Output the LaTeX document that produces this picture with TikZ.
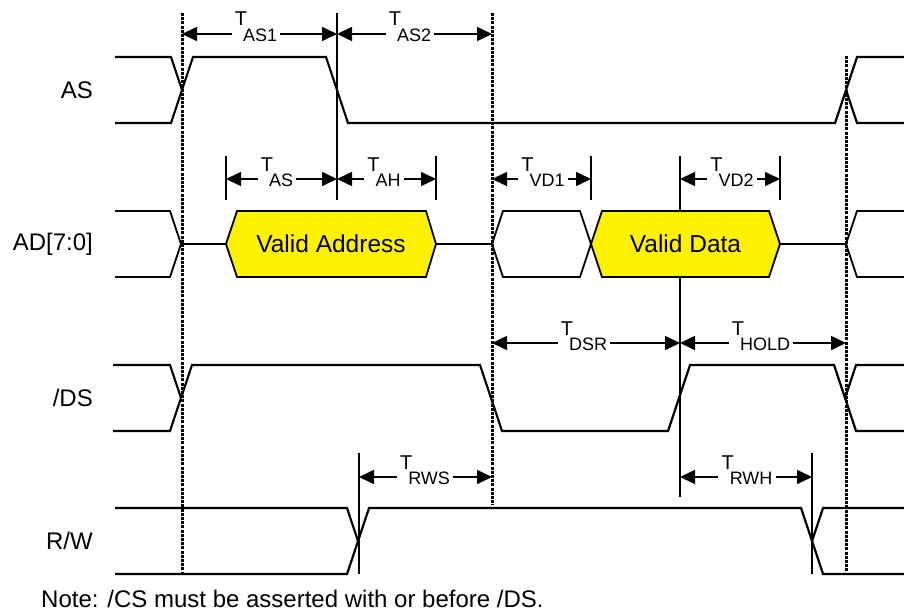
\documentclass[tikz,border=0pt]{standalone}
\usepackage{fontspec}
\setmainfont{Liberation Sans}
\usetikzlibrary{arrows.meta}

\newcommand{\tlbl}[1]{\raisebox{8pt}{\fontsize{20}{20}\selectfont T}\kern-4pt\raisebox{-7.5pt}{\fontsize{18}{18}\selectfont #1}}

\begin{document}
\begin{tikzpicture}
	[
	x=1pt, y=-1pt,
	font=\fontsize{24}{28}\selectfont,
	sig/.style={line width=2.2pt, line join=miter},
	bus/.style={line width=1.8pt, line join=miter},
	valid/.style={bus, fill=yellow},
	dotline/.style={line width=3pt, dash pattern=on 3pt off 1.2pt},
	marker/.style={line width=1.8pt},
	dim/.style={
           -{Triangle[length=15pt,width=14pt]},
           line width=1.6pt,},
	tlab/.style={inner xsep=3pt, inner ysep=0pt, text height=24pt, text depth=24pt},
	signame/.style={anchor=east, inner sep=0pt}
	]
		\useasboundingbox (0,0) rectangle (904,615);

		% time marks
		\coordinate (tA) at (182,0);
		\coordinate (tB) at (337,0);
		\coordinate (tC) at (492,0);
		\coordinate (tD) at (680,0);
		\coordinate (tE) at (846,0);
		\coordinate (tF) at (359,0);
		\coordinate (tG) at (812,0);
		\coordinate (kA) at (226,0);
		\coordinate (kB) at (436,0);
		\coordinate (kC) at (591,0);
		\coordinate (kD) at (780,0);

		% signal names
		\node[signame] (nAS) at (93,90) {AS};
		\node[signame] (nAD) at (93,244) {AD[7:0]};
		\node[signame] (nDS) at (93,398) {/DS};
		\node[signame] (nRW) at (93,541) {R/W};

		% dotted and solid marker lines
		\draw[dotline] (182,13) -- (182,575);
		\draw[dotline] (492,13) -- (492,505);
		\draw[dotline] (846,56) -- (846,574);
		\draw[marker] (337,13) -- (337,200);
		\draw[marker] (680,156) -- (680,497);
		\draw[marker] (359,453) -- (359,574);
		\draw[marker] (812,453) -- (812,574);
		\foreach \x in {226,436,591,780} \draw[marker] (\x,156) -- (\x,200);

		% AS
		\draw[sig] (115,57) -- (171,57) -- (182,90);
		\draw[sig] (115,123) -- (171,123) -- (193,57) -- (326,57) -- (348,123) -- (835,123) -- (857,57) -- (904,57);
		\draw[sig] (846,90) -- (857,123) -- (904,123);

		% AD[7:0]
		\draw[bus] (115,211) -- (170,211) -- (181,244);
		\draw[bus] (115,277) -- (170,277) -- (181,244) -- (226,244);
		\draw[valid] (226,244) -- (237,211) -- (426,211) -- (436,244) -- (426,277) -- (237,277) -- cycle;
		\draw[bus] (436,244) -- (492,244);
		\draw[bus] (492,244) -- (503,211) -- (580,211) -- (591,244) -- (580,277) -- (503,277) -- cycle;
		\draw[valid] (591,244) -- (602,211) -- (769,211) -- (780,244) -- (769,277) -- (602,277) -- cycle;
		\draw[bus] (780,244) -- (846,244) -- (857,211) -- (904,211);
		\draw[bus] (846,244) -- (857,277) -- (904,277);
		\node[font=\fontsize{24.5}{28}\selectfont] (va) at (331,244) {Valid Address};
		\node[font=\fontsize{24.5}{28}\selectfont] (vd) at (685.5,244) {Valid Data};

		% /DS
		\draw[sig] (113,365) -- (170,365) -- (181,398);
		\draw[sig] (113,431) -- (170,431) -- (192,365) -- (480,365) -- (502,431) -- (668,431) -- (690,365) -- (834,365) -- (856,431) -- (904,431);
		\draw[sig] (845,398) -- (856,365) -- (904,365);

		% R/W
		\draw[sig] (115,508) -- (347,508) -- (358,541);
		\draw[sig] (115,574) -- (347,574) -- (369,508) -- (801,508) -- (823,574) -- (904,574);
		\draw[sig] (812,541) -- (823,508) -- (904,508);

		% timing parameters
		\foreach \name/\txt/\cx/\cy/\from/\to in {
			AS1/AS1/256/34/tA/tB,
			AS2/AS2/410/34/tB/tC,
			AS/AS/277/179/kA/tB,
			AH/AH/384/179/tB/kB,
			VD1/VD1/543/179/tC/kC,
			VD2/VD2/732/179/tD/kD,
			DSR/DSR/584/343/tC/tD,
			HOLD/HOLD/761/343/tD/tE,
			RWS/RWS/425/477/tF/tC,
			RWH/RWH/747/477/tD/tG}
		{
			\node[tlab] (d\name) at (\cx,\cy) {\tlbl{\txt}};
			\draw[dim] (d\name.west) -- (d\name.west -| \from);
			\draw[dim] (d\name.east) -- (d\name.east -| \to);
		}

		% note
		\node[anchor=base west, inner sep=0pt] (note) at (41,607) {Note: /CS must be asserted with or before /DS.};

	\end{tikzpicture}
\end{document}
